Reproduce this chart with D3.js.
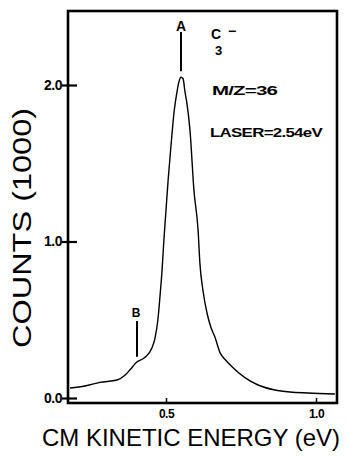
<!DOCTYPE html>
<html><head><meta charset="utf-8">
<script src="https://cdn.jsdelivr.net/npm/d3@7"></script>
<style>html,body{margin:0;padding:0;background:#fff}</style>
</head><body>
<script>
const energy = [0.18,0.23,0.28,0.337,0.363,0.38,0.40,0.43,0.453,0.463,0.473,0.48,0.487,0.493,0.50,0.507,0.517,0.527,0.537,0.543,0.55,0.557,0.563,0.57,0.58,0.593,0.607,0.613,0.623,0.637,0.65,0.663,0.68,0.70,0.72,0.763,0.807,0.863,0.913,0.973,1.063];
const counts = [0.064,0.077,0.10,0.115,0.145,0.18,0.225,0.26,0.32,0.38,0.50,0.65,0.82,1.01,1.20,1.39,1.62,1.83,1.96,2.02,2.05,2.04,1.96,1.88,1.71,1.33,1.07,0.86,0.69,0.54,0.45,0.39,0.29,0.24,0.20,0.13,0.083,0.051,0.038,0.032,0.026];
const xTicks = [0.5, 1.0];
const xTickLabels = ["0.5", "1.0"];
const yTicks = [0, 1, 2];
const yTickLabels = ["0.0", "1.0", "2.0"];
const peaks = [{label:"A", e:0.55, c:2.05}, {label:"B", e:0.40, c:0.225}];

(function(){
const W = 349, H = 460;
const FONT = "'Liberation Sans', Arial, sans-serif";
const svg = d3.select("body").append("svg").attr("width", W).attr("height", H)
  .style("font-family", FONT);

const x = d3.scaleLinear().domain([0.5, 1.0]).range([166, 316]);
const y = d3.scaleLinear().domain([0, 2]).range([398, 85]);
const fL = 68, fR = 337, fT = 11, fB = 403;

// frame
svg.append("rect").attr("x", fL).attr("y", fT).attr("width", fR-fL).attr("height", fB-fT)
  .attr("fill", "none").attr("stroke", "#000").attr("stroke-width", 2.6);

// y axis
const ya = svg.append("g").attr("transform", `translate(${fL},0)`)
  .call(d3.axisLeft(y).tickValues(yTicks).tickSize(6).tickFormat((d,i)=>yTickLabels[i]));
ya.select(".domain").remove();
ya.selectAll(".tick line").attr("x1", -6).attr("x2", 9).attr("stroke", "#000").attr("stroke-width", 2.2);
ya.selectAll(".tick text").attr("x", -6).attr("font-size", 14).attr("font-weight", "bold")
  .attr("letter-spacing", -0.5).attr("fill", "#000").attr("font-family", FONT);

// x axis
const xa = svg.append("g").attr("transform", `translate(0,${fB})`)
  .call(d3.axisBottom(x).tickValues(xTicks).tickSize(-5).tickFormat((d,i)=>xTickLabels[i]));
xa.select(".domain").remove();
xa.selectAll(".tick line").attr("stroke", "#000").attr("stroke-width", 1.5);
xa.selectAll(".tick text").attr("y", 6).attr("font-size", 12).attr("font-weight", "bold")
  .attr("letter-spacing", -0.5).attr("fill", "#000").attr("font-family", FONT);

// curve
const data = energy.map((e,i)=>[e, counts[i]]);
svg.append("path").datum(data)
  .attr("d", d3.line().x(d=>x(d[0])).y(d=>y(d[1])).curve(d3.curveMonotoneX))
  .attr("fill", "none").attr("stroke", "#000").attr("stroke-width", 1.4);

// peak markers
const pA = peaks[0], pB = peaks[1];
svg.append("line").attr("x1", x(pA.e)).attr("x2", x(pA.e)).attr("y1", 32).attr("y2", y(pA.c)-6)
  .attr("stroke", "#000").attr("stroke-width", 2);
svg.append("text").attr("x", x(pA.e)).attr("y", 31).attr("text-anchor", "middle")
  .attr("font-size", 14).attr("font-weight", "bold").text(pA.label);
svg.append("line").attr("x1", x(pB.e)+1).attr("x2", x(pB.e)+1).attr("y1", 321).attr("y2", y(pB.c)-6)
  .attr("stroke", "#000").attr("stroke-width", 2);
svg.append("text").attr("x", x(pB.e)).attr("y", 317).attr("text-anchor", "middle")
  .attr("font-size", 12).attr("font-weight", "bold").text(pB.label);

// annotations
const ann = svg.append("g").attr("font-weight", "bold").attr("fill", "#000");
ann.append("text").attr("x", 211).attr("y", 39).attr("font-size", 14).text("C");
ann.append("text").attr("x", 215).attr("y", 55).attr("font-size", 13).text("3");
ann.append("text").attr("x", 228).attr("y", 36).attr("font-size", 14).text("−");
ann.append("text").attr("x", 212).attr("y", 95).attr("font-size", 12).attr("letter-spacing", -0.5)
  .attr("textLength", 65).attr("lengthAdjust", "spacingAndGlyphs").text("M/Z=36");
ann.append("text").attr("x", 210).attr("y", 137).attr("font-size", 12).attr("letter-spacing", -0.5)
  .attr("textLength", 112).attr("lengthAdjust", "spacingAndGlyphs").text("LASER=2.54eV");

// axis titles
svg.append("text").attr("transform", "translate(31,228) rotate(-90)").attr("text-anchor", "middle")
  .attr("font-size", 26).attr("textLength", 240).attr("lengthAdjust", "spacingAndGlyphs")
  .text("COUNTS (1000)");
svg.append("text").attr("x", 42).attr("y", 446).attr("font-size", 24)
  .attr("textLength", 298).attr("lengthAdjust", "spacingAndGlyphs")
  .text("CM KINETIC ENERGY (eV)");
})();
</script>
</body></html>
